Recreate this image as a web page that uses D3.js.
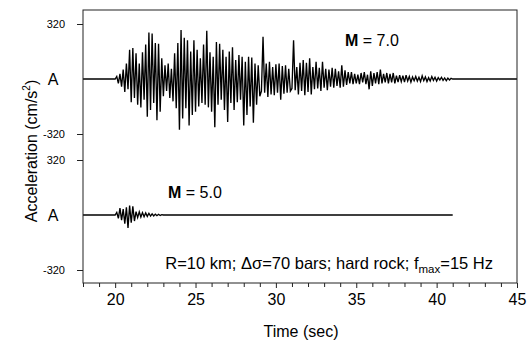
<!DOCTYPE html>
<html><head><meta charset="utf-8">
<script src="https://cdn.jsdelivr.net/npm/d3@7"></script>
<style>
body{margin:0;background:#fff;}
text{font-family:"Liberation Sans",Arial,Helvetica,sans-serif;fill:#000;}
</style></head>
<body><svg id="c" width="527" height="342"></svg>
<script>
// ---- data ----
const xDomain = [18, 45];
const xMajorTicks = [20, 25, 30, 35, 40, 45];
const yTickLabels = ["320", "A", "-320"];
const yTickValues = [320, 0, -320];
const dt = 0.1;
// M = 7.0 trace: samples every 0.1 s from 20.0 s (cm/s^2)
const m7Start = 20.0, m7FlatEnd = 45;
const m7Values = [
0,15,-25,30,-45,55,-75,90,-60,170,
-135,180,-110,150,-150,90,-165,155,-120,200,
-220,270,-180,265,-140,210,-240,205,-190,120,
-100,80,-70,90,-110,60,-130,150,-170,210,
-295,285,-230,240,-170,225,-270,160,-210,225,
-190,170,-160,120,-140,200,-150,280,-165,155,
-190,130,-280,215,-150,205,-120,170,-180,130,
-250,160,-140,185,-180,110,-135,140,-120,130,
-270,100,-210,130,-160,125,-255,90,-150,80,
-100,-70,245,-80,90,-105,100,-90,70,-95,
85,-80,90,-120,75,-85,80,-80,60,-70,
-55,225,-65,70,-90,95,-70,110,-95,95,
-75,120,-90,70,-60,100,-55,65,-70,100,
-50,60,-65,55,-45,65,-50,60,-40,45,
-50,80,-45,50,-35,40,-25,40,-30,30,
-25,25,-30,35,-20,40,-30,25,-60,45,
-40,35,-25,40,-30,55,-25,30,-20,35,
-25,30,-20,35,-25,20,-18,22,-15,20,
-18,22,-12,15,-18,12,-10,15,-12,10,
-15,18,-10,12,-15,8,-12,14,-8,10,
-12,8,-6,10,-8,6,-10,5,-6,4,
0
];
// M = 5.0 trace
const m5Start = 20.0, m5FlatEnd = 41;
const m5Values = [
0,15,-20,40,-30,35,-50,45,-75,55,
-45,50,-35,20,-15,18,-12,14,-10,12,
-8,10,-6,7,-5,5,-4,4,-3,2,
0
];
const labelM7 = ["M", " = 7.0"];
const labelM5 = ["M", " = 5.0"];

// ---- chart ----
const svg = d3.select("#c");
const L = 83, R = 517, T = 10, B = 283;
const x = d3.scaleLinear().domain(xDomain).range([L, R]);
const yTop = d3.scaleLinear().domain([-320, 320]).range([134, 24]);
const yBot = d3.scaleLinear().domain([-320, 320]).range([270, 160]);

function series(start, vals, flatEnd) {
  const pts = [[xDomain[0], 0]];
  vals.forEach((v, i) => pts.push([start + i * dt, v]));
  pts.push([flatEnd, 0]);
  return pts;
}
const line = y => d3.line().x(d => x(d[0])).y(d => y(d[1]));

svg.append("path").datum(series(m7Start, m7Values, m7FlatEnd))
  .attr("d", line(yTop)).attr("fill", "none").attr("stroke", "#000").attr("stroke-width", 1.35);
svg.append("path").datum(series(m5Start, m5Values, m5FlatEnd))
  .attr("d", line(yBot)).attr("fill", "none").attr("stroke", "#000").attr("stroke-width", 1.35);

// frame
svg.append("rect").attr("x", L).attr("y", T).attr("width", R - L).attr("height", B - T)
  .attr("fill", "none").attr("stroke", "#222").attr("stroke-width", 1);

// bottom axis
const minor = d3.range(xDomain[0], xDomain[1] + 0.001, 1).filter(v => !xMajorTicks.includes(v));
const gMinor = svg.append("g").attr("transform", `translate(0,${B})`)
  .call(d3.axisBottom(x).tickValues(minor).tickSize(4).tickFormat(""));
const gx = svg.append("g").attr("transform", `translate(0,${B})`)
  .call(d3.axisBottom(x).tickValues(xMajorTicks).tickSize(5).tickPadding(6).tickFormat(d3.format("d")));
[gMinor, gx].forEach(g => { g.select(".domain").remove(); g.selectAll("line").attr("stroke", "#222"); });
gx.selectAll("text").attr("font-size", 16).attr("font-family", '"Liberation Sans",Arial,sans-serif');

// left axes
[yTop, yBot].forEach(y => {
  const g = svg.append("g").attr("transform", `translate(${L},0)`)
    .call(d3.axisLeft(y).tickValues([320, -320]).tickSize(6).tickPadding(12).tickFormat(d => yTickLabels[yTickValues.indexOf(d)]));
  g.select(".domain").remove();
  g.selectAll("line").attr("stroke", "#222");
  g.selectAll("text").attr("font-size", 11).attr("font-family", '"Liberation Sans",Arial,sans-serif');
  svg.append("text").attr("x", 53).attr("y", y(0)).attr("dy", "0.36em")
    .attr("text-anchor", "middle").attr("font-size", 16).text(yTickLabels[1]);
});

// titles
svg.append("text").attr("x", 301).attr("y", 337).attr("text-anchor", "middle")
  .attr("font-size", 16).text("Time (sec)");
const yt = svg.append("text").attr("transform", "translate(37,151) rotate(-90)")
  .attr("text-anchor", "middle").attr("font-size", 16);
yt.append("tspan").text("Acceleration (cm/s");
yt.append("tspan").attr("font-size", 10).attr("dy", -7).text("2");
yt.append("tspan").attr("dy", 7).text(")");

function mLabel(px, py, parts) {
  const t = svg.append("text").attr("x", px).attr("y", py).attr("font-size", 16);
  t.append("tspan").attr("font-weight", "bold").text(parts[0]);
  t.append("tspan").text(parts[1]);
}
mLabel(345, 46, labelM7);
mLabel(168, 198, labelM5);

const note = svg.append("text").attr("x", 493).attr("y", 269).attr("text-anchor", "end").attr("font-size", 16.5);
note.append("tspan").text("R=10 km; \u0394\u03c3=70 bars; hard rock; f");
note.append("tspan").attr("font-size", 11.5).attr("dy", 4).text("max");
note.append("tspan").attr("dy", -4).text("=15 Hz");
</script></body></html>
